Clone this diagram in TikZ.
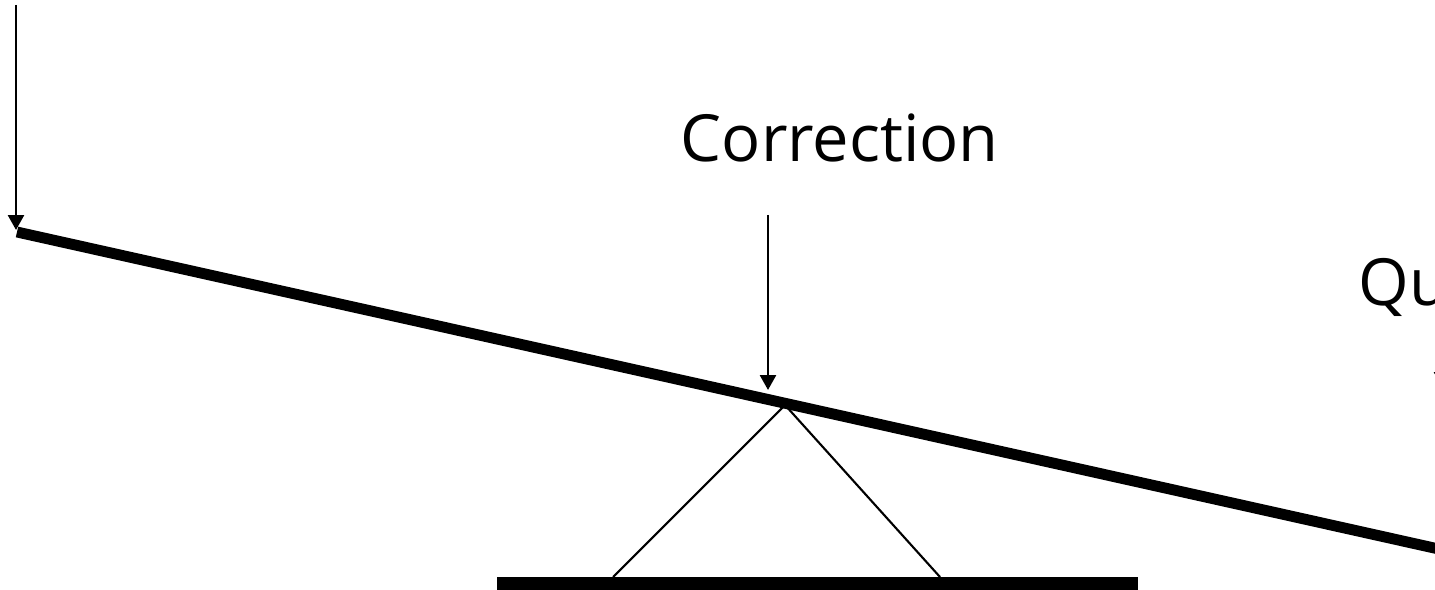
\documentclass[tikz,border=0pt]{standalone}
\usepackage{fontspec}
\setmainfont{Open Sans}
\usetikzlibrary{arrows.meta}
\begin{document}
\begin{tikzpicture}[x=1cm, y=1cm,
    label/.style={inner sep=0pt, anchor=base west, font=\fontsize{18.5}{22}\selectfont},
    force/.style={line width=0.75pt, -{Triangle[length=0.15cm, width=0.16cm]}},
    thin/.style={line width=0.6pt}]
    \clip (0,0) rectangle (14.35,-5.89);

    % Beam
    \coordinate (bl) at (0.17,-2.32);
    \coordinate (br) at (14.70,-5.56);
    \draw[line width=3.1pt] (bl) -- (br);

    % Fulcrum
    \coordinate (apex) at (7.85,-4.05);
    \coordinate (footl) at (6.13,-5.77);
    \coordinate (footr) at (9.40,-5.77);
    \draw[thin] (footl) -- (apex) -- (footr);
    \fill (4.97,-5.77) rectangle (11.38,-6.00);

    % Labels
    \node[label] (corr) at (6.80,-1.62) {Correction};
    \node[label] (qual) at (13.58,-3.05) {Qu};

    % Arrows
    \coordinate (ltop) at (0.16,-0.05);
    \coordinate (ltip) at (0.16,-2.30);
    \draw[force] (ltop) -- (ltip);

    \coordinate (ctop) at (7.68,-2.15);
    \coordinate (ctip) at (7.68,-3.90);
    \draw[force] (ctop) -- (ctip);

    \coordinate (rtop) at (14.42,-3.30);
    \coordinate (rtip) at (14.42,-3.87);
    \draw[force] (rtop) -- (rtip);
\end{tikzpicture}
\end{document}
